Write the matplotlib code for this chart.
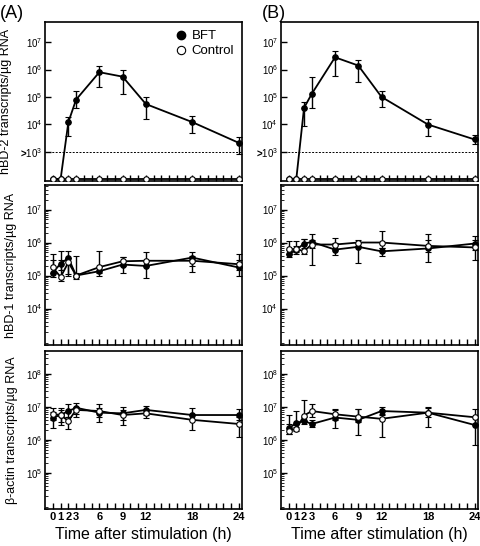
import numpy as np
import matplotlib
matplotlib.use("Agg")
import matplotlib.pyplot as plt
from matplotlib.ticker import FixedLocator, NullFormatter, LogLocator

plt.rcParams['font.family'] = ['Liberation Sans', 'DejaVu Sans']
plt.rcParams['mathtext.fontset'] = 'custom'
plt.rcParams['mathtext.rm'] = 'Liberation Sans'
plt.rcParams['mathtext.it'] = 'Liberation Sans:italic'
plt.rcParams['mathtext.bf'] = 'Liberation Sans:bold'

hours = [0, 1, 2, 3, 6, 9, 12, 18, 24]
xtick_labels = ['0', '1', '2', '3', '6', '9', '12', '18', '24']

# hBD-2, panel A
hbd2_a_bft = [100, 100, 1.2e4, 8e4, 8e5, 5.5e5, 5.5e4, 1.2e4, 2.1e3]
hbd2_a_bft_lo = [100, 100, 3.6e3, 4e4, 2.3e5, 1.3e5, 1.5e4, 5e3, 8e2]
hbd2_a_bft_hi = [100, 100, 1.9e4, 1.7e5, 1.4e6, 9.8e5, 1e5, 2e4, 3.4e3]
hbd2_a_ctl = [100, 100, 100, 100, 100, 100, 100, 100, 100]

# hBD-2, panel B
hbd2_b_bft = [100, 100, 4e4, 1.3e5, 2.8e6, 1.4e6, 1e5, 9.8e3, 2.8e3]
hbd2_b_bft_lo = [100, 100, 8.5e3, 4e4, 6e5, 3.6e5, 4.2e4, 3.6e3, 1.9e3]
hbd2_b_bft_hi = [100, 100, 6.5e4, 5.3e5, 4.8e6, 2.2e6, 1.7e5, 1.6e4, 4e3]
hbd2_b_ctl = [100, 100, 100, 100, 100, 100, 100, 100, 100]

# hBD-1, panel A
hbd1_a_bft = [1.23e5, 2.3e5, 3.4e5, 1e5, 1.35e5, 2.15e5, 1.95e5, 3.5e5, 1.75e5]
hbd1_a_bft_lo = [9e4, 1.5e5, 1.15e5, 9e4, 1e5, 1.2e5, 8.5e4, 1.3e5, 1e5]
hbd1_a_bft_hi = [3e5, 5.4e5, 5.4e5, 1.2e5, 1.8e5, 3.7e5, 2.8e5, 5.2e5, 3e5]
hbd1_a_ctl = [1.75e5, 9e4, 2.5e5, 1e5, 1.8e5, 2.7e5, 2.8e5, 2.8e5, 2.2e5]
hbd1_a_ctl_lo = [1.2e5, 7e4, 1e5, 8e4, 1.2e5, 2e5, 2e5, 2e5, 1.5e5]
hbd1_a_ctl_hi = [4.6e5, 3e5, 3.5e5, 3.9e5, 5.4e5, 3.7e5, 5.2e5, 4e5, 4.6e5]

# hBD-1, panel B
hbd1_b_bft = [4.4e5, 6e5, 9.3e5, 1.04e6, 6.1e5, 7.4e5, 5.4e5, 6.6e5, 9.3e5]
hbd1_b_bft_lo = [3.6e5, 4.5e5, 7e5, 2.05e5, 4.3e5, 2.4e5, 4e5, 2.6e5, 6e5]
hbd1_b_bft_hi = [6e5, 8e5, 1.3e6, 1.87e6, 1e6, 1e6, 7e5, 1.8e6, 1.55e6]
hbd1_b_ctl = [6.3e5, 6.3e5, 5.5e5, 8.7e5, 8.7e5, 1e6, 1e6, 7.9e5, 7.1e5]
hbd1_b_ctl_lo = [4.5e5, 5e5, 4.5e5, 7e5, 6.5e5, 8e5, 7e5, 5e5, 2.9e5]
hbd1_b_ctl_hi = [1.1e6, 1.1e6, 1.3e6, 1.2e6, 1.38e6, 1.2e6, 2.2e6, 1.2e6, 1.2e6]

# beta-actin, panel A
act_a_bft = [4.7e6, 5.6e6, 7.4e6, 9.3e6, 6.6e6, 6.3e6, 8e6, 5.6e6, 5.6e6]
act_a_bft_lo = [2.3e6, 3.5e6, 5e6, 6e6, 3.5e6, 4e6, 5.5e6, 4e6, 4e6]
act_a_bft_hi = [7e6, 8e6, 1.2e7, 1.26e7, 9e6, 9.5e6, 1.07e7, 9.3e6, 8.5e6]
act_a_ctl = [6e6, 5.6e6, 3.7e6, 8e6, 7.4e6, 5.6e6, 6.3e6, 4e6, 3e6]
act_a_ctl_lo = [4e6, 2.8e6, 2.1e6, 5e6, 5e6, 2.8e6, 4.7e6, 2e6, 1.2e6]
act_a_ctl_hi = [9e6, 9e6, 5e6, 1e7, 1.2e7, 8e6, 8e6, 6e6, 5e6]

# beta-actin, panel B
act_b_bft = [2.2e6, 3.2e6, 3.7e6, 3e6, 4.7e6, 4e6, 7.4e6, 6.6e6, 2.8e6]
act_b_bft_lo = [1.5e6, 2.5e6, 3e6, 2.5e6, 2.2e6, 1.4e6, 5.5e6, 5e6, 7e5]
act_b_bft_hi = [5.6e6, 7.4e6, 5e6, 4e6, 8.3e6, 8.3e6, 9.5e6, 1e7, 5e6]
act_b_ctl = [1.9e6, 2.1e6, 5.4e6, 7.4e6, 5.9e6, 5e6, 4.3e6, 6.6e6, 4.8e6]
act_b_ctl_lo = [1.5e6, 1.8e6, 3.7e6, 5e6, 4e6, 3.5e6, 1.2e6, 2.5e6, 3e6]
act_b_ctl_hi = [3e6, 3e6, 1.6e7, 1.2e7, 8e6, 8.3e6, 6e6, 9e6, 8.5e6]

ylabels = ["hBD-2 transcripts/\u00b5g RNA",
           "hBD-1 transcripts/\u00b5g RNA",
           "\u03b2-actin transcripts/\u00b5g RNA"]


def yerr(v, lo, hi):
    v = np.array(v)
    return [v - np.array(lo), np.array(hi) - v]


def draw_series(ax, v, lo, hi, filled):
    face = 'black' if filled else 'white'
    if lo is None:
        ax.plot(hours, v, '-', color='black', lw=1.3, marker='o', ms=4,
                mfc=face, mec='black', mew=0.8, zorder=3 if filled else 4)
    else:
        ax.errorbar(hours, v, yerr=yerr(v, lo, hi), fmt='-o', color='black',
                    lw=1.3, ms=4, mfc=face, mec='black', mew=0.8,
                    elinewidth=1.0, capsize=2.2, capthick=1.0,
                    zorder=3 if filled else 4)


def style_axes(ax, ylim, labels, bottom):
    ax.set_yscale('log')
    ax.set_xlim(-1, 24.4)
    ax.set_ylim(*ylim)
    ax.yaxis.set_major_locator(FixedLocator([v for v, s in labels]))
    ax.set_yticklabels([s for v, s in labels], fontsize=7, fontweight='bold')
    ax.yaxis.set_minor_locator(LogLocator(base=10, subs=np.arange(2, 10)))
    ax.yaxis.set_minor_formatter(NullFormatter())
    ax.set_xticks(np.arange(0, 25))
    if bottom:
        ax.set_xticklabels([xtick_labels[hours.index(h)] if h in hours else ''
                            for h in range(25)], fontsize=8, fontweight='bold')
        ax.set_xlabel("Time after stimulation (h)", fontsize=11.5, labelpad=4)
    else:
        ax.set_xticklabels([])
    ax.tick_params(axis='both', which='major', direction='in', length=4,
                   width=1.0, pad=2, top=False, right=False)
    ax.tick_params(axis='y', which='minor', direction='in', length=2,
                   width=0.6, right=False)
    for sp in ax.spines.values():
        sp.set_linewidth(1.2)


fig = plt.figure(figsize=(4.8, 5.46), dpi=100)
lefts = [0.094, 0.585]
bottoms = [0.6685, 0.368, 0.0678]
heights = [0.291, 0.293, 0.289]
width = 0.41

top_labels = [(1e3, r'>$10^{3}$'), (1e4, r'$10^{4}$'), (1e5, r'$10^{5}$'),
              (1e6, r'$10^{6}$'), (1e7, r'$10^{7}$')]
mid_labels = [(1e4, r'$10^{4}$'), (1e5, r'$10^{5}$'),
              (1e6, r'$10^{6}$'), (1e7, r'$10^{7}$')]
bot_labels = [(1e5, r'$10^{5}$'), (1e6, r'$10^{6}$'),
              (1e7, r'$10^{7}$'), (1e8, r'$10^{8}$')]

panels = [
    [(hbd2_a_bft, hbd2_a_bft_lo, hbd2_a_bft_hi, hbd2_a_ctl, None, None),
     (hbd2_b_bft, hbd2_b_bft_lo, hbd2_b_bft_hi, hbd2_b_ctl, None, None)],
    [(hbd1_a_bft, hbd1_a_bft_lo, hbd1_a_bft_hi, hbd1_a_ctl, hbd1_a_ctl_lo, hbd1_a_ctl_hi),
     (hbd1_b_bft, hbd1_b_bft_lo, hbd1_b_bft_hi, hbd1_b_ctl, hbd1_b_ctl_lo, hbd1_b_ctl_hi)],
    [(act_a_bft, act_a_bft_lo, act_a_bft_hi, act_a_ctl, act_a_ctl_lo, act_a_ctl_hi),
     (act_b_bft, act_b_bft_lo, act_b_bft_hi, act_b_ctl, act_b_ctl_lo, act_b_ctl_hi)],
]
ylims = [(85, 5.4e7), (780, 5.5e7), (8e3, 4.8e8)]
tick_sets = [top_labels, mid_labels, bot_labels]

for row in range(3):
    for col in range(2):
        ax = fig.add_axes([lefts[col], bottoms[row], width, heights[row]])
        bft, blo, bhi, ctl, clo, chi = panels[row][col]
        draw_series(ax, bft, blo, bhi, True)
        draw_series(ax, ctl, clo, chi, False)
        if row == 0:
            ax.axhline(1e3, color='black', lw=0.7, ls=(0, (2, 1.5)), zorder=1)
        style_axes(ax, ylims[row], tick_sets[row], row == 2)
        if col == 0:
            ax.set_ylabel(ylabels[row], fontsize=9, labelpad=6)
        if row == 0 and col == 0:
            ax.plot([], [], 'o', color='black', ms=6, label='BFT')
            ax.plot([], [], 'o', mfc='white', mec='black', ms=6, mew=0.8,
                    label='Control')
            h, l = ax.get_legend_handles_labels()
            ax.legend(h[-2:], l[-2:], loc='upper right', frameon=False,
                      fontsize=9.5, handletextpad=0.2, borderaxespad=0.2,
                      labelspacing=0.2, handlelength=1.2)

fig.text(0.0, 0.975, "(A)", fontsize=13, ha='left', va='center')
fig.text(0.545, 0.975, "(B)", fontsize=13, ha='left', va='center')

fig.savefig("out.png", dpi=100)
